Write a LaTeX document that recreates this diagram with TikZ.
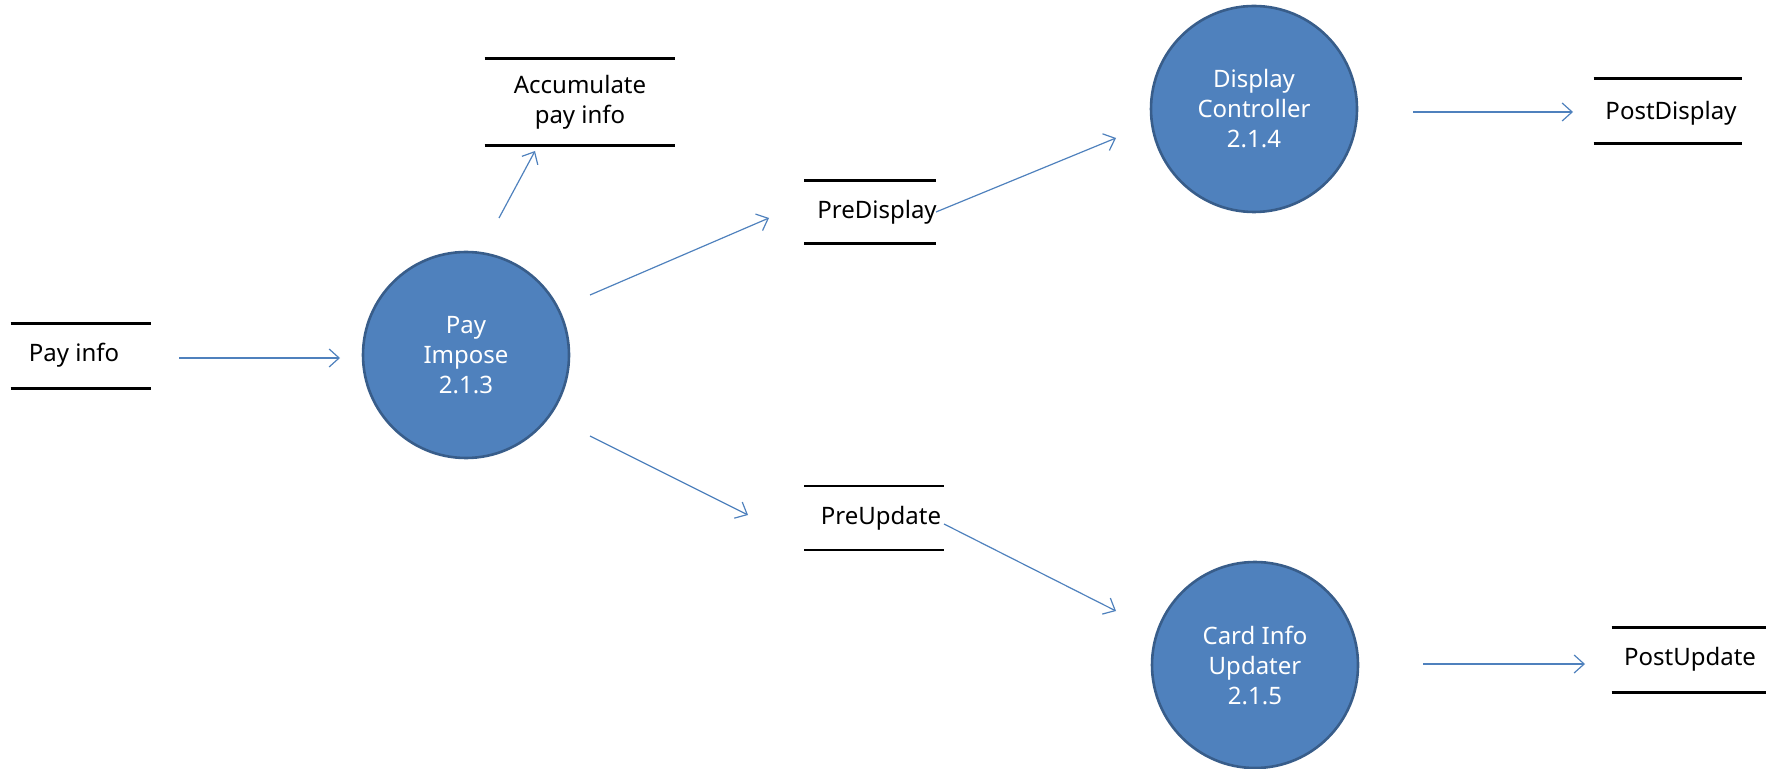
\documentclass[tikz,border=0pt]{standalone}
\usepackage{fontspec}
\setmainfont{Noto Sans}
\usetikzlibrary{arrows.meta}
\definecolor{procfill}{HTML}{4F81BD}
\definecolor{procline}{HTML}{385D8A}
\definecolor{flow}{HTML}{4F81BD}
\begin{document}
\begin{tikzpicture}[x=0.5pt,y=-0.5pt,
  proc/.style={circle,fill=procfill,draw=procline,line width=1.3pt,minimum size=103pt,inner sep=0pt,
    text=white,align=center,font=\fontsize{12}{15}\selectfont},
  store/.style={inner sep=0pt,align=center,font=\fontsize{12}{15}\selectfont},
  storeline/.style={line width=1.2pt,black},
  flowarrow/.style={draw=flow,line width=0.6pt,-{Straight Barb[length=5pt,width=9pt,line width=0.6pt]}}
]
\useasboundingbox (0,0) rectangle (1775,769);

% processes
\node[proc] (impose) at (466,355) {Pay\\Impose\\2.1.3};
\node[proc] (dispctl) at (1254,109) {Display\\Controller\\2.1.4};
\node[proc] (cardupd) at (1255,665) {Card Info\\Updater\\2.1.5};

% stores
\node[store,minimum width=70pt,minimum height=32pt] (payinfo) at (81,356) {};
\node[store] (payinfotext) at (74,355) {Pay info};
\draw[storeline] (payinfo.north west) -- (payinfo.north east);
\draw[storeline] (payinfo.south west) -- (payinfo.south east);

\node[store,minimum width=95pt,minimum height=43pt] (accum) at (580,102) {Accumulate\\pay info};
\draw[storeline] (accum.north west) -- (accum.north east);
\draw[storeline] (accum.south west) -- (accum.south east);

\node[store,minimum width=65.5pt,minimum height=31pt] (predisp) at (870,212) {};
\node[store] (predisptext) at (877,212) {PreDisplay};
\draw[storeline] (predisp.north west) -- (predisp.north east);
\draw[storeline] (predisp.south west) -- (predisp.south east);

\node[store,minimum width=74pt,minimum height=32pt] (postdisp) at (1668,111) {};
\node[store] (postdisptext) at (1671,113) {PostDisplay};
\draw[storeline] (postdisp.north west) -- (postdisp.north east);
\draw[storeline] (postdisp.south west) -- (postdisp.south east);

\node[store,minimum width=69.5pt,minimum height=31.5pt] (preupd) at (874,518) {};
\node[store] (preupdtext) at (881,518) {PreUpdate};
\draw[storeline] (preupd.north west) -- (preupd.north east);
\draw[storeline] (preupd.south west) -- (preupd.south east);

\node[store,minimum width=77pt,minimum height=32pt] (postupd) at (1689,660) {};
\node[store] (postupdtext) at (1690,659) {PostUpdate};
\draw[storeline] (postupd.north west) -- (postupd.north east);
\draw[storeline] (postupd.south west) -- (postupd.south east);

% flow end points
\coordinate (f1s) at (179,358);  \coordinate (f1e) at (340,358);
\coordinate (f2s) at (499,218);  \coordinate (f2e) at (535,151);
\coordinate (f3s) at (590,295);  \coordinate (f3e) at (769,218);
\coordinate (f4s) at (936,212);  \coordinate (f4e) at (1116,138);
\coordinate (f5s) at (1413,112); \coordinate (f5e) at (1573,112);
\coordinate (f6s) at (590,436);  \coordinate (f6e) at (748,515);
\coordinate (f7s) at (944,524);  \coordinate (f7e) at (1116,611);
\coordinate (f8s) at (1423,664); \coordinate (f8e) at (1585,664);

\draw[flowarrow] (f1s) -- (f1e);
\draw[flowarrow] (f2s) -- (f2e);
\draw[flowarrow] (f3s) -- (f3e);
\draw[flowarrow] (f4s) -- (f4e);
\draw[flowarrow] (f5s) -- (f5e);
\draw[flowarrow] (f6s) -- (f6e);
\draw[flowarrow] (f7s) -- (f7e);
\draw[flowarrow] (f8s) -- (f8e);
\end{tikzpicture}
\end{document}
